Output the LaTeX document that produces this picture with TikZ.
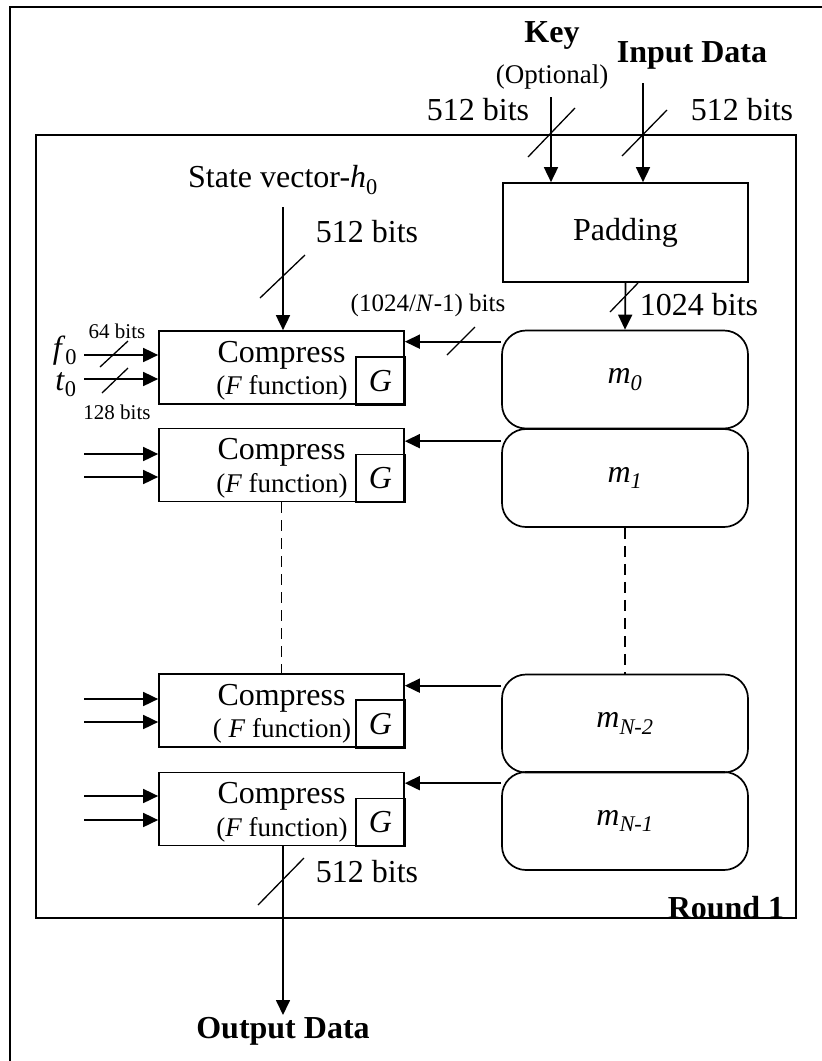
\documentclass[tikz,border=0pt]{standalone}
\usepackage{fontspec}
\setmainfont{Liberation Serif}
\usetikzlibrary{arrows.meta,calc}

\begin{document}
\begin{tikzpicture}[x=1pt,y=-1pt,
  every node/.style={inner sep=0pt, font=\fontsize{32}{36}\selectfont},
  conn/.style={line width=1.7pt, -{Triangle[length=15pt,width=14pt]}},
  tick/.style={line width=1.3pt},
  framed/.style={line width=1.7pt},
  cbox/.style={draw, line width=1.7pt, minimum width=245pt, minimum height=73pt},
  gbox/.style={draw, line width=1.7pt, minimum width=49pt, minimum height=48pt},
  mbox/.style={draw, line width=1.7pt, rounded corners=24pt, minimum width=246pt, minimum height=98pt},
  padbox/.style={draw, line width=1.7pt, minimum width=245pt, minimum height=99pt},
  small/.style={font=\fontsize{21}{24}\selectfont},
  mid/.style={font=\fontsize{25}{29}\selectfont},
  opt/.style={font=\fontsize{27}{30}\selectfont},
  fn/.style={font=\fontsize{27}{30}\selectfont},
  ttl/.style={font=\fontsize{32}{36}\selectfont\bfseries},
  dsh/.style={line width=1.3pt, dash pattern=on 11pt off 7pt},
]
\useasboundingbox (0,0) rectangle (822,1061);

% outer page frame and the round frame
\draw[framed] (10,1061) -- (10,7) -- (822,7);
\node[draw, framed, minimum width=760pt, minimum height=783pt] (rnd) at (416,526.5) {};
\node[ttl] (rlabel) at (726,907.5) {Round 1};

% padding and message blocks
\node[padbox] (pad) at (625.5,232.5) {Padding};
\node[mbox] (m0) at (625,379.5) {\textit{m\textsubscript{0}}};
\node[mbox] (m1) at (625,478) {\textit{m\textsubscript{1}}};
\node[mbox] (m2) at (625,723.5) {\textit{m\textsubscript{N-2}}};
\node[mbox] (m3) at (625,821) {\textit{m\textsubscript{N-1}}};

% compression boxes
\node[cbox] (c1) at (281.5,367.5) {};
\node[cbox] (c2) at (281.5,465) {};
\node[cbox] (c3) at (281.5,710.5) {};
\node[cbox] (c4) at (281.5,809) {};
\foreach \c in {c1,c2,c4}{
  \node at ($(\c.center)+(0,-12.5)$) {Compress};
  \node[fn] at ($(\c.center)+(0.5,20.5)$) {(\textit{F} function)};
}
\node at ($(c3.center)+(0,-12.5)$) {Compress};
\node[fn] at ($(c3.center)+(0.5,20.5)$) {( \textit{F} function)};
\foreach \c in {c1,c2,c3,c4}{
  \node[gbox] (g\c) at ($(\c.south east)+(-24.5,-24)$) {\textit{G}};
}

% key and input data
\node[ttl] (key) at (552,35) {Key};
\node[opt] (keyopt) at (552,77) {(Optional)};
\node[ttl] (inp) at (692,55) {Input Data};
\coordinate (keys) at (551,97);
\coordinate (inps) at (643,83);
\draw[conn] (keys) -- (keys |- pad.north);
\draw[conn] (inps) -- (inps |- pad.north);
\draw[tick] (528,157) -- (575,108);
\draw[tick] (622,156) -- (667,110);
\node (kbits) at (478,110) {512 bits};
\node (ibits) at (742,110) {512 bits};

% padding output
\draw[conn] (pad.south) -- (m0.north);
\draw[tick] (610,312) -- (638,283);
\node (pbits) at (699,305) {1024 bits};

% state vector
\node (sv) at (283,180) {State vector-\textit{h}\textsubscript{0}};
\coordinate (svs) at (283,207);
\draw[conn] (svs) -- (svs |- c1.north);
\draw[tick] (260,298) -- (305,255);
\node (sbits) at (367,232) {512 bits};

% message words into the compression boxes
\path ($(m0.north west)+(0,12)$) coordinate (a0)
      ($(m1.north west)+(0,13)$) coordinate (a1)
      ($(m2.north west)+(0,12)$) coordinate (a2)
      ($(m3.north west)+(0,12)$) coordinate (a3);
\draw[conn] (a0) -- (a0 -| c1.east);
\draw[conn] (a1) -- (a1 -| c2.east);
\draw[conn] (a2) -- (a2 -| c3.east);
\draw[conn] (a3) -- (a3 -| c4.east);
\draw[tick] (447,355) -- (475,327);
\node[mid] (nbits) at (428,305) {(1024/\textit{N}-1) bits};

% counter inputs
\coordinate (f0) at (84,355);
\coordinate (t0) at (84,379);
\draw[conn] (f0) -- (f0 -| c1.west);
\draw[conn] (t0) -- (t0 -| c1.west);
\draw[tick] (100,367) -- (128,341);
\draw[tick] (102,393) -- (128,368);
\node[anchor=base] (f0l) at (65,358) {\textit{f}\textsubscript{0}};
\node[anchor=base] (t0l) at (66,390) {\textit{t}\textsubscript{0}};
\node[small] (fbits) at (117,331) {64 bits};
\node[small] (tbits) at (117,412) {128 bits};
\foreach \c/\ya/\yb in {c2/454/477, c3/699/722, c4/796/820}{
  \coordinate (i1\c) at (84,\ya);
  \coordinate (i2\c) at (84,\yb);
  \draw[conn] (i1\c) -- (i1\c -| \c.west);
  \draw[conn] (i2\c) -- (i2\c -| \c.west);
}

% omitted stages
\draw[dsh] (c2.south) -- (c3.north);
\draw[dsh] (m1.south) -- (m2.north);

% output
\coordinate (outp) at (283,1015);
\draw[conn] (c4.south -| outp) -- (outp);
\draw[tick] (258,905) -- (304,858);
\node (obits) at (367,872) {512 bits};
\node[ttl] (outl) at (283,1031) {Output Data};
\end{tikzpicture}
\end{document}
